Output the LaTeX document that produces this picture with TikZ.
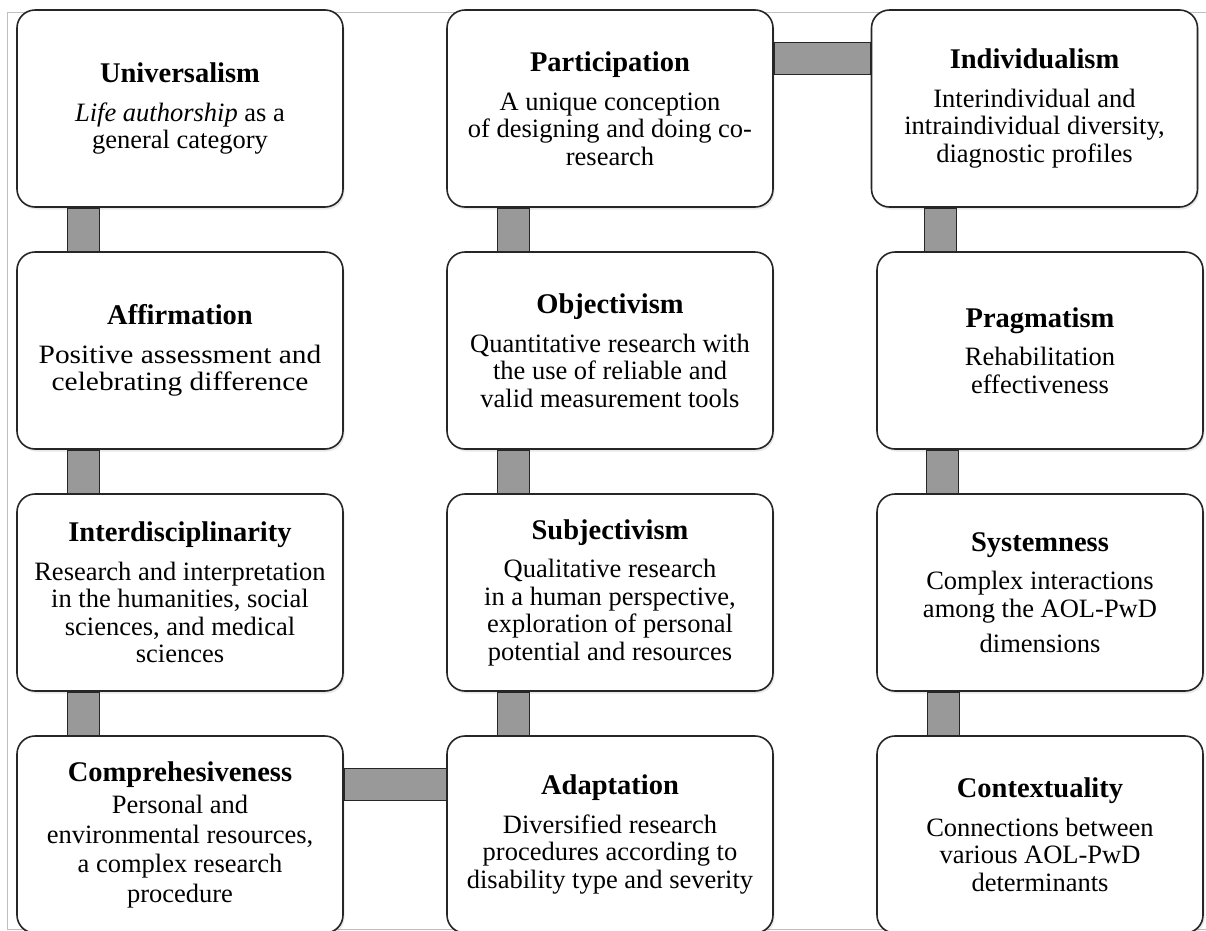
\documentclass[tikz,border=0pt]{standalone}
\usepackage{fontspec}
\setmainfont{Liberation Serif}
\usetikzlibrary{shadows}
\tikzset{
  card/.style={draw=black!85, line width=1.6pt, fill=white, rounded corners=18pt,
    minimum width=326pt, minimum height=197pt, align=center, inner sep=0pt,
    font=\fontsize{26.5}{27.5}\selectfont,
    drop shadow={opacity=0.18, shadow xshift=1.5pt, shadow yshift=-2.5pt}},
  bar/.style={fill=black!40, draw=black!85, line width=1.4pt},
  frameline/.style={draw=black!25, line width=0.8pt},
}
\newcommand{\cardtitle}[1]{{\fontsize{28.5}{28.5}\selectfont\bfseries #1}\\[11pt]}
\begin{document}
\begin{tikzpicture}[x=1pt,y=-1pt]
\useasboundingbox (0,0) rectangle (1206,930);
\clip (0,0) rectangle (1206,930);
\draw[frameline] (7,929) -- (7,12) -- (1206,12);
\draw[frameline] (7,929) -- (1206,929);

\node[card] (uni) at (180,108.5) {\cardtitle{Universalism}\textit{Life authorship} as a\\general category};
\node[card] (par) at (610,108.5) {\cardtitle{Participation}A unique conception\\of designing and doing co-\\research};
\node[card] (ind) at (1034.5,108.5) {\cardtitle{Individualism}Interindividual and\\intraindividual diversity,\\diagnostic profiles};

\node[card] (aff) at (180,350.5) {\cardtitle{Affirmation}\addfontfeatures{FakeStretch=1.11}Positive assessment and\\\addfontfeatures{FakeStretch=1.11}celebrating difference};
\node[card] (obj) at (610,350.5) {\cardtitle{Objectivism}Quantitative research with\\the use of reliable and\\valid measurement tools};
\node[card] (pra) at (1040,350.5) {\cardtitle{Pragmatism}Rehabilitation\\effectiveness};

\node[card] (int) at (180,592.5) {\cardtitle{Interdisciplinarity}Research and interpretation\\in the humanities, social\\sciences, and medical\\sciences};
\node[card] (sub) at (610,592.5) {\cardtitle{Subjectivism}Qualitative research\\in a human perspective,\\exploration of personal\\potential and resources};
\node[card] (sys) at (1040,592.5) {\cardtitle{Systemness}Complex interactions\\among the AOL-PwD\\[8pt]dimensions};

\node[card] (com) at (180,834.5) {{\fontsize{28.5}{28.5}\selectfont\bfseries Comprehesiveness}\\[5pt]Personal and\\[2pt]environmental resources,\\[2pt]a complex research\\[2pt]procedure};
\node[card] (ada) at (610,834.5) {\cardtitle{Adaptation}Diversified research\\procedures according to\\disability type and severity};
\node[card] (con) at (1040,834.5) {\cardtitle{Contextuality}Connections between\\various AOL-PwD\\determinants};

% vertical connectors
\draw[bar] ([xshift=51pt]uni.south west) rectangle ([xshift=83pt]aff.north west);
\draw[bar] ([xshift=51pt]aff.south west) rectangle ([xshift=83pt]int.north west);
\draw[bar] ([xshift=51pt]int.south west) rectangle ([xshift=83pt]com.north west);
\draw[bar] ([xshift=51pt]par.south west) rectangle ([xshift=83pt]obj.north west);
\draw[bar] ([xshift=51pt]obj.south west) rectangle ([xshift=83pt]sub.north west);
\draw[bar] ([xshift=51pt]sub.south west) rectangle ([xshift=83pt]ada.north west);
\draw[bar] ([xshift=54pt]ind.south west) rectangle ([xshift=80pt]pra.north west);
\draw[bar] ([xshift=50pt]pra.south west) rectangle ([xshift=82pt]sys.north west);
\draw[bar] ([xshift=51pt]sys.south west) rectangle ([xshift=83pt]con.north west);
% horizontal connectors
\draw[bar] ([yshift=-33pt]par.north east) rectangle ([yshift=-65pt]ind.north west);
\draw[bar] ([yshift=-33pt]com.north east) rectangle ([yshift=-65pt]ada.north west);
\end{tikzpicture}
\end{document}
